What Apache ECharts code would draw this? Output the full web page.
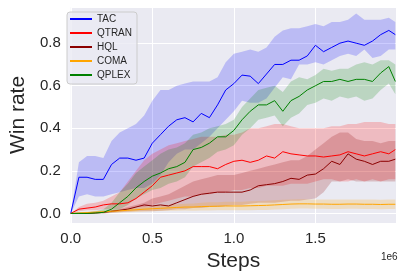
<!DOCTYPE html>
<html><head><meta charset="utf-8">
<script src="https://cdn.jsdelivr.net/npm/echarts@6/dist/echarts.min.js"></script>
<style>html,body{margin:0;padding:0;background:#fff}#c{width:403px;height:279px}</style>
</head><body><div id="c"></div>
<script>
// steps in millions
const X = [0,0.05,0.10,0.15,0.20,0.25,0.30,0.35,0.40,0.45,0.50,0.55,0.60,0.65,0.70,0.75,0.80,0.85,0.90,0.95,1.00,1.05,1.10,1.15,1.20,1.25,1.30,1.35,1.40,1.45,1.50,1.55,1.60,1.65,1.70,1.75,1.80,1.85,1.90,1.95,1.99];
const xTicks = [0, 0.5, 1.0, 1.5];
const yTicks = [0.0, 0.2, 0.4, 0.6, 0.8];

const TAC_mean = [0,0.17,0.17,0.16,0.16,0.23,0.26,0.26,0.25,0.26,0.33,0.37,0.41,0.44,0.45,0.43,0.47,0.45,0.51,0.58,0.61,0.65,0.645,0.61,0.655,0.70,0.70,0.72,0.72,0.74,0.79,0.76,0.78,0.80,0.81,0.80,0.79,0.81,0.84,0.86,0.84];
const TAC_up = [0,0.24,0.27,0.27,0.26,0.34,0.38,0.40,0.42,0.46,0.53,0.58,0.58,0.60,0.61,0.62,0.62,0.62,0.64,0.71,0.75,0.76,0.77,0.76,0.78,0.83,0.86,0.87,0.87,0.88,0.89,0.88,0.90,0.90,0.91,0.94,0.91,0.91,0.91,0.92,0.90];
const TAC_lo = [0,0.08,0.09,0.08,0.08,0.09,0.10,0.11,0.12,0.12,0.14,0.18,0.24,0.28,0.30,0.30,0.33,0.36,0.40,0.44,0.48,0.53,0.52,0.52,0.54,0.59,0.64,0.63,0.70,0.70,0.71,0.70,0.72,0.74,0.75,0.74,0.77,0.73,0.74,0.77,0.77];

const QTRAN_mean = [0,0.02,0.025,0.03,0.04,0.045,0.045,0.05,0.07,0.10,0.13,0.17,0.18,0.19,0.20,0.22,0.22,0.22,0.21,0.23,0.245,0.25,0.24,0.25,0.27,0.26,0.29,0.28,0.275,0.27,0.27,0.265,0.27,0.275,0.29,0.28,0.27,0.28,0.29,0.28,0.30];
const QTRAN_up = [0,0.03,0.045,0.05,0.06,0.08,0.10,0.15,0.20,0.25,0.28,0.30,0.32,0.33,0.34,0.35,0.36,0.36,0.36,0.37,0.37,0.38,0.40,0.40,0.41,0.42,0.42,0.41,0.40,0.40,0.40,0.40,0.41,0.41,0.42,0.42,0.43,0.43,0.43,0.42,0.42];
const QTRAN_lo = [0,0.01,0.015,0.015,0.02,0.02,0.02,0.02,0.03,0.03,0.04,0.05,0.06,0.07,0.08,0.08,0.09,0.09,0.10,0.10,0.11,0.11,0.12,0.12,0.13,0.13,0.13,0.14,0.14,0.14,0.15,0.16,0.16,0.15,0.15,0.16,0.15,0.16,0.15,0.16,0.16];

const HQL_mean = [0,0,0,0.002,0.005,0.01,0.015,0.02,0.03,0.04,0.035,0.04,0.035,0.05,0.065,0.08,0.09,0.095,0.10,0.10,0.10,0.10,0.11,0.13,0.135,0.14,0.15,0.165,0.16,0.18,0.185,0.21,0.245,0.23,0.28,0.255,0.245,0.23,0.245,0.245,0.255];
const HQL_up = [0,0,0.002,0.005,0.01,0.015,0.02,0.03,0.04,0.05,0.07,0.08,0.09,0.11,0.13,0.15,0.16,0.17,0.18,0.18,0.18,0.19,0.20,0.21,0.22,0.23,0.24,0.25,0.25,0.27,0.30,0.33,0.36,0.38,0.38,0.35,0.34,0.34,0.33,0.34,0.34];
const HQL_lo = [0,0,0,0,0,0.002,0.005,0.008,0.01,0.01,0.01,0.012,0.015,0.02,0.02,0.025,0.025,0.03,0.03,0.035,0.04,0.04,0.045,0.05,0.05,0.05,0.055,0.06,0.06,0.065,0.07,0.10,0.15,0.15,0.16,0.15,0.15,0.15,0.15,0.15,0.15];

const COMA_mean = [0,0.002,0.004,0.006,0.008,0.01,0.012,0.015,0.017,0.02,0.022,0.024,0.026,0.028,0.03,0.03,0.032,0.033,0.034,0.035,0.035,0.035,0.036,0.037,0.038,0.04,0.042,0.044,0.045,0.045,0.044,0.044,0.043,0.043,0.044,0.044,0.043,0.043,0.042,0.043,0.043];
const COMA_up = [0,0.005,0.008,0.011,0.014,0.017,0.02,0.024,0.027,0.031,0.034,0.037,0.04,0.043,0.046,0.047,0.05,0.052,0.053,0.055,0.055,0.055,0.057,0.058,0.06,0.062,0.064,0.066,0.067,0.067,0.066,0.066,0.065,0.065,0.066,0.066,0.065,0.065,0.064,0.065,0.065];
const COMA_lo = [0,0,0,0.001,0.002,0.003,0.004,0.006,0.007,0.009,0.01,0.011,0.012,0.013,0.014,0.013,0.014,0.014,0.015,0.015,0.015,0.015,0.015,0.016,0.016,0.018,0.02,0.022,0.023,0.023,0.022,0.022,0.021,0.021,0.022,0.022,0.021,0.021,0.02,0.021,0.021];

const QPLEX_mean = [0,0,0,0.002,0.005,0.02,0.05,0.08,0.12,0.15,0.175,0.19,0.21,0.22,0.24,0.30,0.31,0.33,0.36,0.36,0.39,0.44,0.48,0.51,0.51,0.53,0.48,0.53,0.55,0.58,0.60,0.62,0.62,0.63,0.62,0.63,0.63,0.62,0.66,0.69,0.62];
const QPLEX_up = [0,0.005,0.005,0.01,0.02,0.05,0.10,0.14,0.19,0.22,0.25,0.28,0.30,0.31,0.33,0.37,0.38,0.40,0.41,0.42,0.44,0.50,0.54,0.58,0.59,0.60,0.57,0.62,0.64,0.63,0.65,0.68,0.67,0.68,0.68,0.70,0.71,0.70,0.72,0.72,0.70];
const QPLEX_lo = [0,0,0,0,0,0.005,0.02,0.04,0.07,0.09,0.11,0.12,0.14,0.15,0.17,0.22,0.24,0.26,0.29,0.30,0.32,0.37,0.40,0.44,0.45,0.46,0.41,0.45,0.47,0.51,0.52,0.54,0.53,0.55,0.54,0.55,0.53,0.54,0.58,0.61,0.56];

const methods = [
  {name:'TAC', color:'#0000ff', band:'rgba(0,0,255,0.2)', mean:TAC_mean, up:TAC_up, lo:TAC_lo},
  {name:'QTRAN', color:'#ff0000', band:'rgba(255,0,0,0.2)', mean:QTRAN_mean, up:QTRAN_up, lo:QTRAN_lo},
  {name:'HQL', color:'#8b0000', band:'rgba(139,0,0,0.2)', mean:HQL_mean, up:HQL_up, lo:HQL_lo},
  {name:'COMA', color:'#ffa500', band:'rgba(255,165,0,0.2)', mean:COMA_mean, up:COMA_up, lo:COMA_lo},
  {name:'QPLEX', color:'#008000', band:'rgba(0,128,0,0.2)', mean:QPLEX_mean, up:QPLEX_up, lo:QPLEX_lo}
];

const pairs = arr => arr.map((v,i)=>[X[i]*1e6, v]);

const series = [];
methods.forEach(m => {
  series.push({
    type:'custom', name:m.name+'_band', silent:true, z:1,
    data: X.map((x,i)=>[x*1e6, m.lo[i], m.up[i]]),
    encode:{x:0, y:[1,2]},
    renderItem:(params, api) => {
      if (params.dataIndex !== 0) return null;
      const pts = [];
      for (let i = 0; i < X.length; i++) pts.push(api.coord([X[i]*1e6, m.up[i]]));
      for (let i = X.length - 1; i >= 0; i--) pts.push(api.coord([X[i]*1e6, m.lo[i]]));
      return {type:'polygon', shape:{points:pts}, style:{fill:m.band, stroke:null}};
    }
  });
});
methods.forEach((m, k) => {
  series.push({type:'line', name:m.name, data:pairs(m.mean), symbol:'none', color:m.color,
    itemStyle:{color:m.color}, lineStyle:{width:1, color:m.color}, z:3+k});
});

const FONT = 'Liberation Sans, Arial, sans-serif';
const isTick = (v, ticks) => ticks.some(t => Math.abs(t - v) < 1e-9);

const chart = echarts.init(document.getElementById('c'), null, {renderer:'canvas'});
chart.setOption({
  animation:false,
  backgroundColor:'#ffffff',
  grid:{left:63, right:7, top:7, bottom:56, show:true, backgroundColor:'#eaeaf2', borderWidth:0},
  xAxis:{type:'value', min:0, max:1.994e6, interval:5e5,
    axisLine:{show:false}, axisTick:{show:false},
    splitLine:{show:true, lineStyle:{color:'#ffffff', width:1}},
    axisLabel:{color:'#262626', fontSize:15, fontFamily:FONT, margin:8, showMaxLabel:false,
      formatter: v => isTick(v/1e6, xTicks) ? (v/1e6).toFixed(1) : ''},
    name:'Steps', nameLocation:'middle', nameGap:24,
    nameTextStyle:{color:'#262626', fontSize:21, fontFamily:FONT}},
  yAxis:{type:'value', min:-0.045, max:0.97,
    axisLine:{show:false}, axisTick:{show:false},
    splitLine:{show:true, lineStyle:{color:'#ffffff', width:1}},
    axisLabel:{color:'#262626', fontSize:15, fontFamily:FONT, margin:10, showMinLabel:false, showMaxLabel:false,
      formatter: v => isTick(v, yTicks) ? v.toFixed(1) : ''},
    name:'Win rate', nameLocation:'middle', nameGap:36,
    nameTextStyle:{color:'#262626', fontSize:21, fontFamily:FONT}},
  legend:{data:methods.map(m=>m.name), orient:'vertical', left:67, top:12,
    icon:'rect', itemWidth:22, itemHeight:2, itemGap:0,
    padding:[0,5,2,3],
    backgroundColor:'rgba(234,234,242,0.8)', borderColor:'#cccccc', borderWidth:1, borderRadius:3,
    textStyle:{color:'#262626', fontSize:10, fontFamily:FONT, lineHeight:14}},
  graphic:[{type:'text', left:381, top:252, style:{text:'1e6', fontSize:10, fontFamily:FONT, fill:'#262626'}}],
  series: series
});
</script></body></html>
